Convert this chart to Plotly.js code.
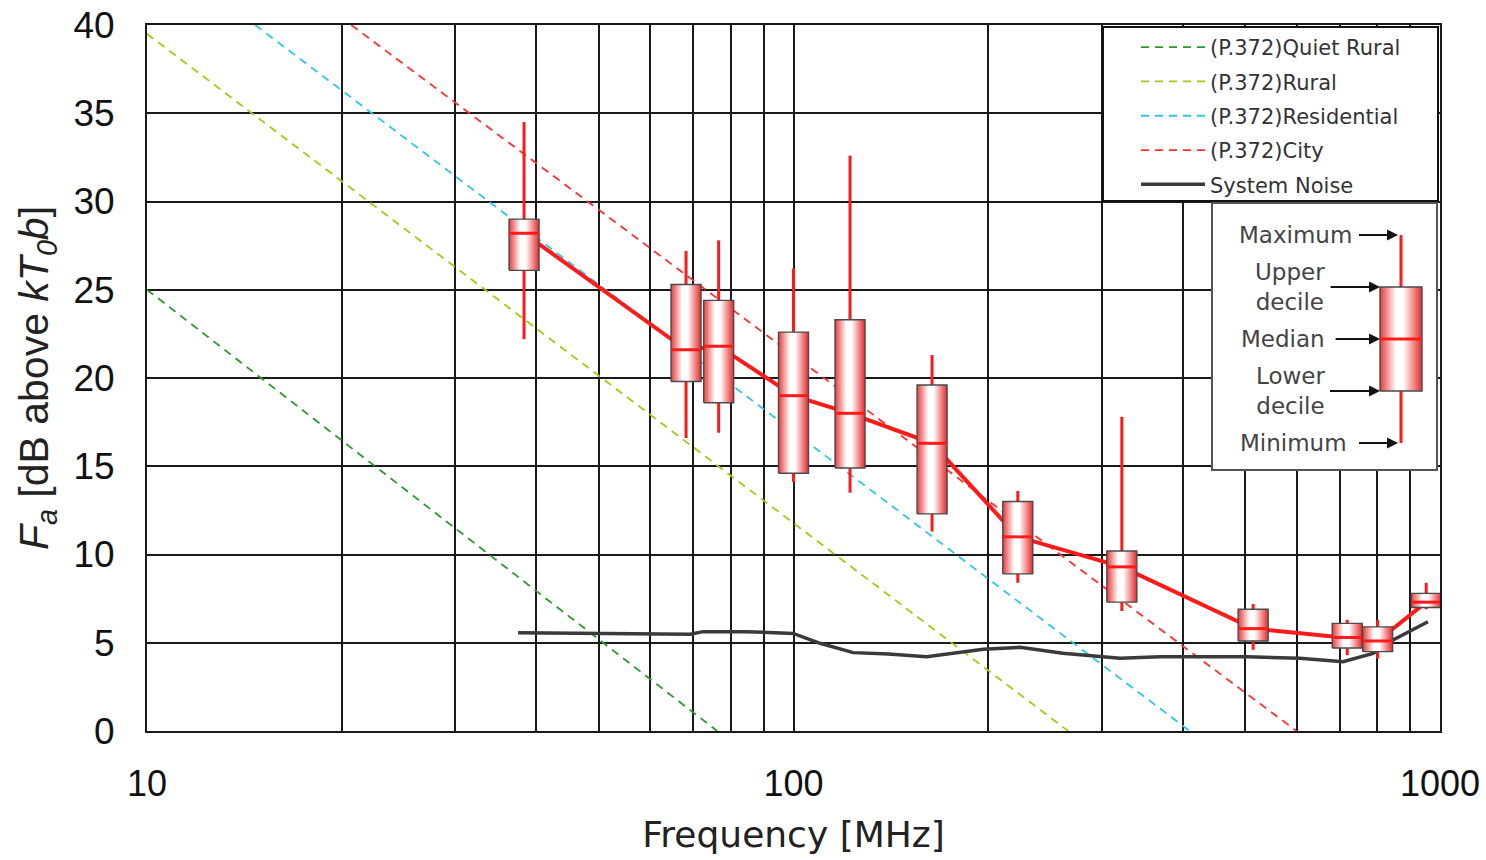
<!DOCTYPE html>
<html>
<head>
<meta charset="utf-8">
<script src="https://cdn.plot.ly/plotly-3.0.1.min.js"></script>
<style>html,body{margin:0;padding:0;background:#fff;}#chart{width:1486px;height:860px;}</style>
</head>
<body>
<div id="chart"></div>
<script>
// ---------- data ----------
const boxFreq   = [38.3, 68.2, 76.6, 100, 122.3, 163.8, 222.3, 322, 514, 718.6, 800.8, 952];
const boxMax    = [34.5, 27.2, 27.8, 26.2, 32.6, 21.3, 13.6, 17.8, 7.2, 6.3, 6.3, 8.4];
const boxUpper  = [29.0, 25.3, 24.4, 22.6, 23.3, 19.6, 13.0, 10.2, 6.9, 6.1, 5.9, 7.8];
const boxMedian = [28.2, 21.6, 21.8, 19.0, 18.0, 16.3, 11.0, 9.3, 5.8, 5.3, 5.1, 7.3];
const boxLower  = [26.1, 19.8, 18.6, 14.6, 14.9, 12.3, 8.9, 7.3, 5.1, 4.7, 4.5, 7.0];
const boxMin    = [22.2, 16.6, 16.9, 14.1, 13.5, 11.3, 8.4, 6.8, 4.6, 4.3, 4.1, 6.9];

const sysFreq = [37.5, 56.2, 69.2, 72.5, 84.6, 99.9, 109.9, 123.7, 140.2, 160.7, 174.6, 196.6, 224, 261, 320, 369, 503, 607, 708, 788, 846, 958];
const sysVal  = [5.57, 5.53, 5.48, 5.63, 5.63, 5.53, 4.97, 4.44, 4.36, 4.21, 4.4, 4.63, 4.74, 4.4, 4.12, 4.21, 4.21, 4.12, 3.93, 4.4, 5.16, 6.19];

const quietRuralFreq = [10, 76.2];  const quietRuralVal = [25, 0];
const ruralFreq      = [10, 266];   const ruralVal      = [39.5, 0];
const residFreq      = [14.7, 410]; const residVal      = [40, 0];
const cityFreq       = [20.7, 600]; const cityVal       = [40, 0];

const seriesNames = ['(P.372)Quiet Rural', '(P.372)Rural', '(P.372)Residential', '(P.372)City', 'System Noise'];

const xTickVals = [10, 100, 1000];
const xTickText = ['10', '100', '1000'];
const yTickVals = [0,5,10,15,20,25,30,35,40];

// explanatory inset (illustrative box: min, lower decile, median, upper decile, max)
const insetStats  = [0, 1, 2, 3, 4];
const insetLabels = ['Minimum', 'Lower<br>decile', 'Median', 'Upper<br>decile', 'Maximum'];

// ---------- styling ----------
const RED = '#ff1a1a';
const GRID = '#1a1a1a';
const halfW = 0.0232; // box half width in decades
const kL = Math.pow(10, -halfW), kR = Math.pow(10, halfW);
const gradScale = [[0,'#e53c3c'],[0.38,'#ffffff'],[0.55,'#ffffff'],[1,'#e52a2a']];
const legendFont = {family:'DejaVu Sans, sans-serif', size:21, color:'#333'};

const traces = [];
function dashed(x, y, color, name, grp) {
  return {type:'scatter', mode:'lines', x:x, y:y, name:name, legendgroup:grp,
    line:{color:color, width:1.8, dash:'8px,6px'}, hoverinfo:'skip', xaxis:'x', yaxis:'y'};
}
traces.push(dashed(quietRuralFreq, quietRuralVal, '#2b9a2b', seriesNames[0], 'g1'));
traces.push(dashed(ruralFreq, ruralVal, '#9fcc10', seriesNames[1], 'g2'));
traces.push(dashed(residFreq, residVal, '#2cc6ea', seriesNames[2], 'g3'));
traces.push(dashed(cityFreq, cityVal, '#ff3030', seriesNames[3], 'g4'));
traces.push({type:'scatter', mode:'lines', x:sysFreq, y:sysVal, name:seriesNames[4], legendgroup:'g5',
  line:{color:'#3a3a3a', width:3.5}, hoverinfo:'skip'});

// median connector
traces.push({type:'scatter', mode:'lines', x:boxFreq, y:boxMedian, showlegend:false,
  line:{color:RED, width:4}, hoverinfo:'skip'});

// whiskers
const wx = [], wy = [];
boxFreq.forEach((f,i) => {
  wx.push(f, f, null, f, f, null);
  wy.push(boxMax[i], boxUpper[i], null, boxLower[i], boxMin[i], null);
});
traces.push({type:'scatter', mode:'lines', x:wx, y:wy, showlegend:false,
  line:{color:RED, width:3}, hoverinfo:'skip'});

// boxes
boxFreq.forEach((f,i) => {
  traces.push({type:'scatter', mode:'lines',
    x:[f*kL, f*kR, f*kR, f*kL, f*kL], y:[boxLower[i], boxLower[i], boxUpper[i], boxUpper[i], boxLower[i]],
    fill:'toself', fillcolor:'#ffc8c8',
    fillgradient:{type:'horizontal', colorscale:gradScale},
    line:{color:'#4a4a4a', width:1.4}, showlegend:false, hoverinfo:'skip'});
});

// medians
const mx = [], my = [];
boxFreq.forEach((f,i) => { mx.push(f*kL, f*kR, null); my.push(boxMedian[i], boxMedian[i], null); });
traces.push({type:'scatter', mode:'lines', x:mx, y:my, showlegend:false,
  line:{color:RED, width:3}, hoverinfo:'skip'});

// ---------- inset explanatory box (x2/y2) ----------
const ibx = 0.84, ibw = 0.0933;
traces.push({type:'scatter', mode:'lines', xaxis:'x2', yaxis:'y2',
  x:[ibx, ibx, null, ibx, ibx], y:[insetStats[4], insetStats[3], null, insetStats[1], insetStats[0]],
  line:{color:RED, width:3}, showlegend:false, hoverinfo:'skip'});
traces.push({type:'scatter', mode:'lines', xaxis:'x2', yaxis:'y2',
  x:[ibx-ibw, ibx+ibw, ibx+ibw, ibx-ibw, ibx-ibw],
  y:[insetStats[1], insetStats[1], insetStats[3], insetStats[3], insetStats[1]],
  fill:'toself', fillcolor:'#ffc8c8', fillgradient:{type:'horizontal', colorscale:gradScale},
  line:{color:'#4a4a4a', width:1.4}, showlegend:false, hoverinfo:'skip'});
traces.push({type:'scatter', mode:'lines', xaxis:'x2', yaxis:'y2',
  x:[ibx-ibw, ibx+ibw], y:[insetStats[2], insetStats[2]],
  line:{color:RED, width:3}, showlegend:false, hoverinfo:'skip'});

const annotations = [];
// text centre x, arrow head x, gap between text and arrow start
const insetLabelPos = [
  {tx:0.36,  head:0.827, gap:12},
  {tx:0.351, head:0.747, gap:4},
  {tx:0.316, head:0.747, gap:10},
  {tx:0.347, head:0.747, gap:5},
  {tx:0.373, head:0.827, gap:6}
];
insetStats.forEach((v,i) => {
  const p = insetLabelPos[i];
  annotations.push({xref:'x2', yref:'y2', axref:'x2', ayref:'y2', x:p.head, y:v, ax:p.tx, ay:v,
    text:insetLabels[i], showarrow:true, arrowhead:2, arrowsize:1.1, arrowwidth:2, arrowcolor:'#111',
    startstandoff:p.gap, borderpad:0,
    font:{family:'DejaVu Sans, sans-serif', size:23, color:'#444'}, align:'center'});
});

const P_L = 147, P_R = 1440, P_T = 25, P_B = 731;
const pw = P_R - P_L, ph = P_B - P_T;
const inset = {x0:1212, x1:1437, y0:203, y1:470};
const legBox = {x0:1103, x1:1438, y0:27, y1:201};

const layout = {
  width:1486, height:860,
  margin:{l:P_L, r:1486-P_R, t:P_T, b:860-P_B, pad:0},
  paper_bgcolor:'#ffffff', plot_bgcolor:'#ffffff',
  showlegend:true,
  legend:{x:(1136-P_L)/pw, y:(P_B-legBox.y0)/ph, xanchor:'left', yanchor:'top',
    bgcolor:'rgba(0,0,0,0)', borderwidth:0, font:legendFont,
    itemwidth:64, traceorder:'grouped', tracegroupgap:4},
  xaxis:{type:'log', range:[1,3], tickvals:xTickVals, ticktext:xTickText,
    showgrid:true, gridcolor:GRID, gridwidth:2, zeroline:false,
    minor:{dtick:'D1', showgrid:true, gridcolor:GRID, gridwidth:2, ticks:''},
    showline:true, linecolor:GRID, linewidth:2, mirror:true, ticks:'',
    tickfont:{family:'Liberation Sans, Arial, sans-serif', size:36, color:'#111'},
    ticklabelstandoff:20,
    title:{text:'Frequency [MHz]', font:{family:'DejaVu Sans, sans-serif', size:36, color:'#222'}, standoff:19},
    automargin:false},
  yaxis:{range:[0,40], tickvals:yTickVals,
    showgrid:true, gridcolor:GRID, gridwidth:2, zeroline:false,
    showline:true, linecolor:GRID, linewidth:2, mirror:true, ticks:'',
    tickfont:{family:'Liberation Sans, Arial, sans-serif', size:37, color:'#111'},
    ticklabelstandoff:23,
    title:{text:'<i>F<sub>a</sub></i> [dB above <i>kT<sub>0</sub>b</i>]', font:{family:'Liberation Sans, Arial, sans-serif', size:41, color:'#222'}, standoff:12},
    automargin:false},
  xaxis2:{domain:[(inset.x0-P_L)/pw, (inset.x1-P_L)/pw], range:[0,1], anchor:'y2',
    visible:false, showgrid:false, zeroline:false, fixedrange:true},
  yaxis2:{domain:[(P_B-inset.y1)/ph, (P_B-inset.y0)/ph], range:[-0.519, 4.615], anchor:'x2',
    visible:false, showgrid:false, zeroline:false, fixedrange:true},
  shapes:[
    {type:'rect', xref:'x2 domain', yref:'y2 domain', x0:0, x1:1, y0:0, y1:1,
      line:{color:'#555', width:2}, fillcolor:'rgba(0,0,0,0)', layer:'above'},
    {type:'rect', xref:'paper', yref:'paper',
      x0:(legBox.x0-P_L)/pw, x1:(legBox.x1-P_L)/pw, y0:(P_B-legBox.y1)/ph, y1:(P_B-legBox.y0)/ph,
      line:{color:'#111', width:2}, fillcolor:'#ffffff', layer:'above'}
  ],
  annotations:annotations
};

Plotly.newPlot('chart', traces, layout, {displayModeBar:false, staticPlot:true});
</script>
</body>
</html>
